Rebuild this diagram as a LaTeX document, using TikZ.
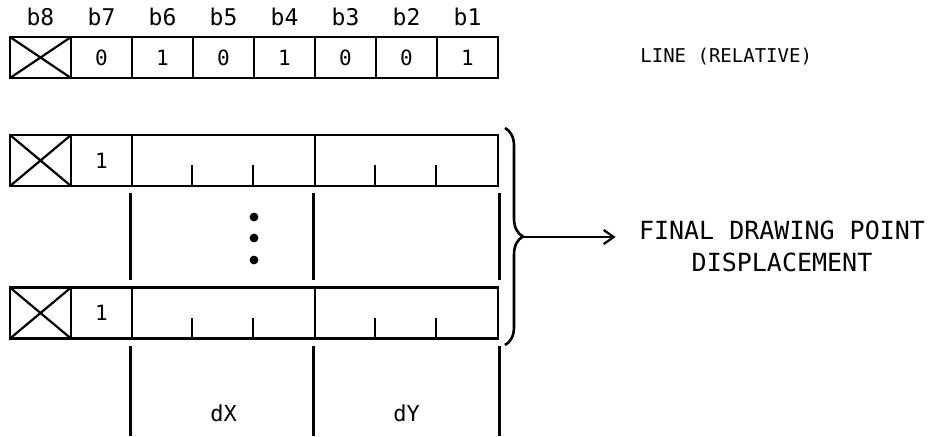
\documentclass[tikz,border=0pt]{standalone}
\usepackage{fontspec}
\setmainfont{DejaVu Sans Mono}
\usetikzlibrary{arrows.meta,positioning,decorations.pathreplacing}
\tikzset{
  cell/.style={
    draw, line width=1.3pt, minimum width=30.5pt, minimum height=#1,
    inner sep=0pt, font=\fontsize{10.5}{12}\selectfont,
  },
  xcell/.style={
    cell=#1,
    path picture={\draw[line width=1.1pt]
      (path picture bounding box.north west) -- (path picture bounding box.south east)
      (path picture bounding box.south west) -- (path picture bounding box.north east);},
  },
  wide/.style={cell=#1, minimum width=91.5pt},
  bitlbl/.style={font=\fontsize{11.5}{13}\selectfont, inner sep=0pt},
  tick/.style={line width=1.1pt},
  rule/.style={line width=1.3pt, shorten <=3pt, shorten >=3pt},
  lbl/.style={font=\fontsize{12.5}{16}\selectfont, inner sep=0pt, align=center},
  arrow/.style={-{Straight Barb[length=5pt,width=7pt]}, line width=1.1pt},
}

\begin{document}
\begin{tikzpicture}[x=0.5pt,y=-0.5pt]
  \useasboundingbox (0,0) rectangle (945,436);

  % format of the command byte
  \node[xcell=20.5pt] (a8) at (40.5,57.5) {};
  \node[bitlbl, above=4.5pt of a8] {b8};
  \foreach \v [count=\i] in {0,1,0,1,0,0,1} {
    \pgfmathtruncatemacro\b{8-\i}
    \node[cell=20.5pt] (a\b) at (40.5+61*\i,57.5) {\v};
    \node[bitlbl, above=4.5pt of a\b] {b\b};
  }
  \node[lbl, font=\fontsize{9.5}{11}\selectfont, anchor=west] (line) at (640,57) {LINE (RELATIVE)};

  % first and last data bytes
  \foreach \r/\y in {2/160.5, 3/313} {
    \node[xcell=25.5pt] (x\r) at (40.5,\y) {};
    \node[cell=25.5pt] (s\r) at (101.5,\y) {1};
    \node[wide=25.5pt] (dx\r) at (223.5,\y) {};
    \node[wide=25.5pt] (dy\r) at (406.5,\y) {};
    \foreach \c in {dx\r, dy\r} {
      \draw[tick] (\c.south west) ++(30.5pt,0) -- ++(0,11pt);
      \draw[tick] (\c.south west) ++(61pt,0) -- ++(0,11pt);
    }
  }

  % columns between and below the bytes
  \coordinate (foot) at (0,436);
  \draw[rule] (dx2.south west) -- (dx3.north west);
  \draw[rule] (dy2.south west) -- (dy3.north west);
  \draw[rule] (dy2.south east) -- (dy3.north east);
  \draw[rule, shorten >=0pt] (dx3.south west) -- (dx3.south west |- foot);
  \draw[rule, shorten >=0pt] (dy3.south west) -- (dy3.south west |- foot);
  \draw[rule, shorten >=0pt] (dy3.south east) -- (dy3.south east |- foot);
  \foreach \y in {217,238,260} \fill (254,\y) circle (2.2pt);

  \node[lbl, font=\fontsize{11}{13}\selectfont] (dxl) at (223.5,413) {dX};
  \node[lbl, font=\fontsize{11}{13}\selectfont] (dyl) at (406.5,413) {dY};

  % brace and result
  \draw[line width=1.3pt, decorate, decoration={brace, amplitude=9pt}]
    (505,128) -- (505,345);
  \coordinate (tip) at (523,237);
  \node[lbl] (final) at (782,246) {FINAL DRAWING POINT\\DISPLACEMENT};
  \draw[arrow, shorten >=11.5pt] (tip) -- (tip -| final.west);

\end{tikzpicture}
\end{document}
